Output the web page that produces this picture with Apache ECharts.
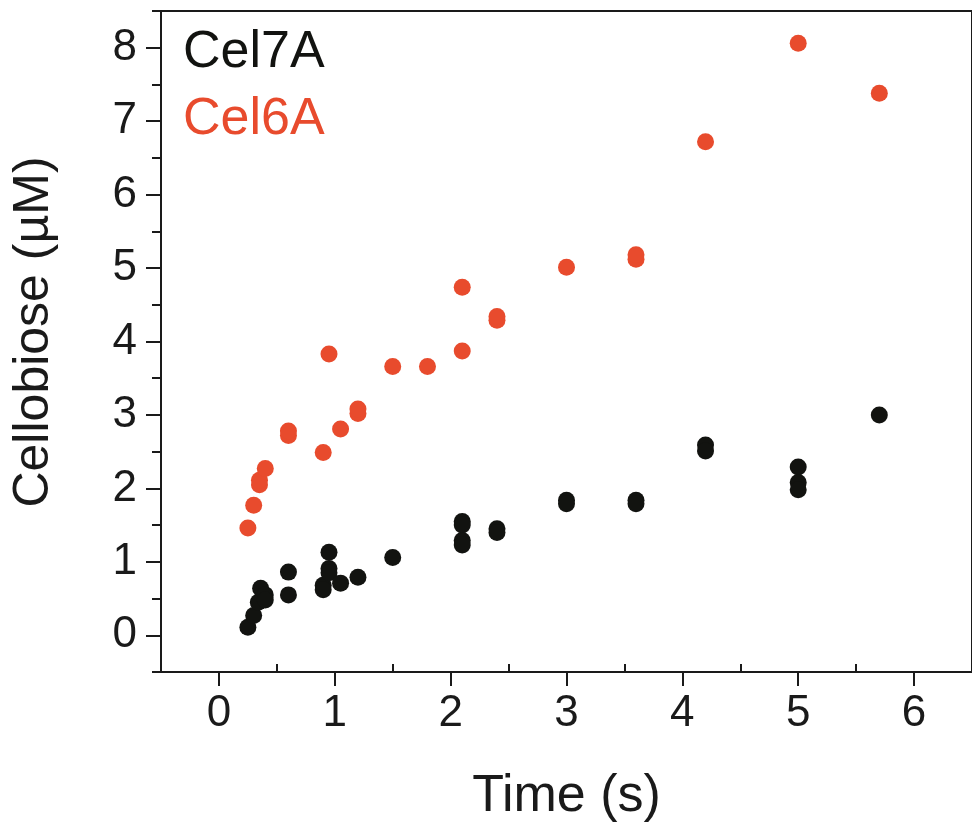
<!DOCTYPE html>
<html>
<head>
<meta charset="utf-8">
<script src="https://cdn.jsdelivr.net/npm/echarts@6/dist/echarts.min.js"></script>
<style>
  html, body { margin: 0; padding: 0; background: #fff; }
  #chart { width: 972px; height: 828px; }
</style>
</head>
<body>
<div id="chart"></div>
<script>
// Cel7A samples (time in s, cellobiose in µM)
const cel7aTime = [0.25, 0.30, 0.34, 0.36, 0.40, 0.40, 0.60, 0.60, 0.90, 0.90, 0.95, 0.95, 0.95, 1.05, 1.20, 1.50,
  2.10, 2.10, 2.10, 2.10, 2.40, 2.40, 3.00, 3.00, 3.60, 3.60, 4.20, 4.20, 5.00, 5.00, 5.00, 5.70];
const cel7aConc = [0.11, 0.27, 0.45, 0.64, 0.55, 0.48, 0.86, 0.55, 0.68, 0.62, 1.13, 0.91, 0.85, 0.71, 0.79, 1.06,
  1.55, 1.50, 1.29, 1.23, 1.45, 1.40, 1.84, 1.79, 1.84, 1.79, 2.59, 2.51, 2.29, 2.08, 1.98, 3.00];

// Cel6A samples
const cel6aTime = [0.25, 0.30, 0.35, 0.35, 0.40, 0.60, 0.60, 0.90, 0.95, 1.05, 1.20, 1.20, 1.50, 1.80,
  2.10, 2.10, 2.40, 2.40, 3.00, 3.60, 3.60, 4.20, 5.00, 5.70];
const cel6aConc = [1.46, 1.77, 2.05, 2.11, 2.27, 2.72, 2.78, 2.49, 3.83, 2.81, 3.02, 3.08, 3.66, 3.66,
  4.74, 3.87, 4.29, 4.34, 5.01, 5.12, 5.18, 6.72, 8.06, 7.38];

const xTicks = [0, 1, 2, 3, 4, 5, 6];
const xMinorTicks = [0.5, 1.5, 2.5, 3.5, 4.5, 5.5];
const yTicks = [0, 1, 2, 3, 4, 5, 6, 7, 8];
const yMinorTicks = [-0.5, 0.5, 1.5, 2.5, 3.5, 4.5, 5.5, 6.5, 7.5, 8.5];

const seriesNames = ["Cel7A", "Cel6A"];
const seriesColors = ["#121310", "#e84b2d"];

const FONT = "'Liberation Sans', Arial, sans-serif";
const INK = "#1a1a1a";
const X_RANGE = { min: -0.5, max: 6.5 };
const Y_RANGE = { min: -0.5, max: 8.5 };

const zip = (xs, ys) => xs.map((x, i) => [x, ys[i]]);

// an extra axis that only draws a set of ticks on top of the main axis line
function tickAxis(range, position, values, length, inside) {
  return {
    type: "value",
    ...range,
    position,
    axisLine: { show: false, onZero: false },
    axisTick: { show: true, inside, customValues: values, length, lineStyle: { color: INK, width: 2 } },
    axisLabel: { show: false },
    splitLine: { show: false },
  };
}

const chart = echarts.init(document.getElementById("chart"));

chart.setOption({
  backgroundColor: "#ffffff",
  animation: false,
  textStyle: { fontFamily: FONT },
  grid: {
    left: 161,
    right: -11,
    top: 11,
    bottom: 156,
    show: true,
    borderColor: INK,
    borderWidth: 2,
    backgroundColor: "transparent",
  },
  legend: {
    left: 178,
    top: 27,
    orient: "vertical",
    icon: "none",
    itemWidth: 0,
    itemHeight: 0,
    itemGap: 15,
    padding: 0,
    selectedMode: false,
    textStyle: { fontSize: 52, fontFamily: FONT },
    data: seriesNames.map((name, i) => ({ name, textStyle: { color: seriesColors[i] } })),
  },
  xAxis: [
    {
      type: "value",
      ...X_RANGE,
      position: "bottom",
      name: "Time (s)",
      nameLocation: "middle",
      nameGap: 99,
      nameTextStyle: { fontSize: 52, color: INK, fontFamily: FONT },
      axisLine: { show: true, onZero: false, lineStyle: { color: INK, width: 2 } },
      axisTick: { show: false },
      axisLabel: { customValues: xTicks, fontSize: 44, color: INK, margin: 20, fontFamily: FONT },
      splitLine: { show: false },
    },
    tickAxis(X_RANGE, "bottom", xTicks, 14, false),
    tickAxis(X_RANGE, "bottom", xMinorTicks, 8, true),
  ],
  yAxis: [
    {
      type: "value",
      ...Y_RANGE,
      position: "left",
      name: "Cellobiose (µM)",
      nameLocation: "middle",
      nameGap: 102,
      nameTextStyle: { fontSize: 50, color: INK, fontFamily: FONT, padding: [0, 0, 0, 19] },
      axisLine: { show: true, onZero: false, lineStyle: { color: INK, width: 2 } },
      axisTick: { show: false },
      axisLabel: { customValues: yTicks, fontSize: 44, color: INK, margin: 24, fontFamily: FONT },
      splitLine: { show: false },
    },
    tickAxis(Y_RANGE, "left", yTicks, 15, false),
    tickAxis(Y_RANGE, "left", yMinorTicks, 9, false),
  ],
  series: [
    {
      name: seriesNames[0],
      type: "scatter",
      symbol: "circle",
      symbolSize: 17,
      itemStyle: { color: seriesColors[0], opacity: 1 },
      data: zip(cel7aTime, cel7aConc),
    },
    {
      name: seriesNames[1],
      type: "scatter",
      symbol: "circle",
      symbolSize: 17,
      itemStyle: { color: seriesColors[1], opacity: 1 },
      data: zip(cel6aTime, cel6aConc),
    },
  ],
});
</script>
</body>
</html>
